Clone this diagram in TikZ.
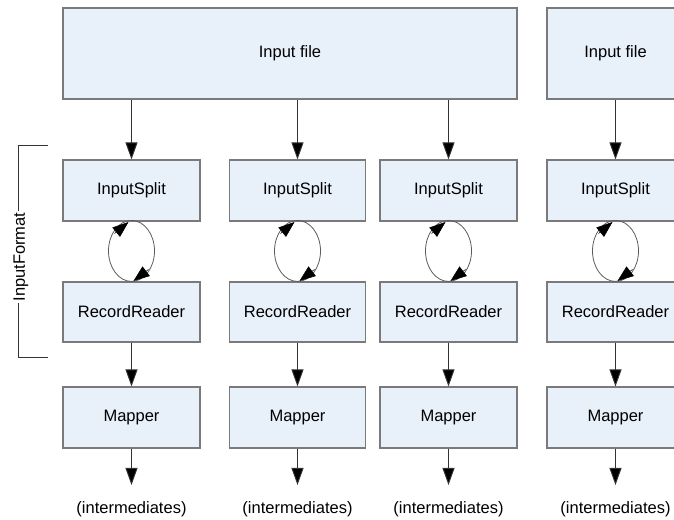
\documentclass[tikz,border=0pt]{standalone}
\usepackage{fontspec}
\setmainfont{Liberation Sans}
\usetikzlibrary{arrows.meta,calc}
\definecolor{boxfill}{HTML}{E8F0FA}
\definecolor{boxdraw}{HTML}{7A7A7A}
\definecolor{linecol}{HTML}{333333}
\begin{document}
\begin{tikzpicture}[x=1pt,y=1pt,
  box/.style={draw=boxdraw,fill=boxfill,line width=1.1pt,inner sep=0pt,
    minimum width=137pt,minimum height=61pt,font=\fontsize{16.5}{19}\selectfont},
  bigarrow/.style={draw=linecol,line width=0.9pt,-{Triangle[length=17pt,width=12pt,fill=black]}},
  loopline/.style={draw=linecol!80,line width=0.8pt},
  looptip/.style={draw=black,line width=0.5pt,-{Triangle[length=16pt,width=12pt,fill=black]}},
  lbl/.style={font=\fontsize{16.5}{19}\selectfont,inner sep=0pt}]
\useasboundingbox (0,0) rectangle (674,519);
\clip (0,0) rectangle (674,519);
% top input files
\node[box,minimum width=454pt,minimum height=91pt] (if1) at (290,465.5) {Input file};
\node[box,minimum height=91pt] (if2) at (615.5,465.5) {Input file};
% columns
\foreach \i/\cx/\w in {1/131.5/137,2/297.5/136,3/448.5/137,4/615.5/137}{
  \node[box,minimum width=\w pt] (is\i) at (\cx,328.5) {InputSplit};
  \node[box,minimum width=\w pt,minimum height=60pt] (rr\i) at (\cx,207) {RecordReader};
  \node[box,minimum width=\w pt] (mp\i) at (\cx,101.5) {Mapper};
  \coordinate (end\i) at (\cx,34);
  \node[lbl] (im\i) at (\cx,10) {(intermediates)};
  \draw[bigarrow] (rr\i.south) -- (mp\i.north);
  \draw[bigarrow] (mp\i.south) -- (end\i);
  \coordinate (lb\i) at (rr\i.north);
  \coordinate (lt\i) at (is\i.south);
  \draw[loopline] (lb\i) arc[start angle=270,end angle=-90,x radius=23pt,y radius=30.5pt];
  \coordinate (ta\i) at ($(lt\i)+(-17,-12)$);
  \coordinate (tb\i) at ($(lt\i)+(-3,-0.5)$);
  \coordinate (ba\i) at ($(lb\i)+(17,12)$);
  \coordinate (bb\i) at ($(lb\i)+(2,0.5)$);
  \draw[looptip] (ta\i) -- (tb\i);
  \draw[looptip] (ba\i) -- (bb\i);
}
\draw[bigarrow] (if1.south -| is1) -- (is1.north);
\draw[bigarrow] (if1.south -| is2) -- (is2.north);
\draw[bigarrow] (if1.south -| is3) -- (is3.north);
\draw[bigarrow] (if2.south) -- (is4.north);
% bracket
\coordinate (bt1) at (48,374);
\coordinate (bt2) at (18,374);
\coordinate (bb2) at (18,162);
\coordinate (bb1) at (48,162);
\draw[draw=linecol,line width=0.9pt] (bt1) -- (bt2) -- (bb2) -- (bb1);
\node[lbl,fill=white,rotate=90,inner sep=2pt] (ifmt) at (21,262) {InputFormat};
\end{tikzpicture}
\end{document}
